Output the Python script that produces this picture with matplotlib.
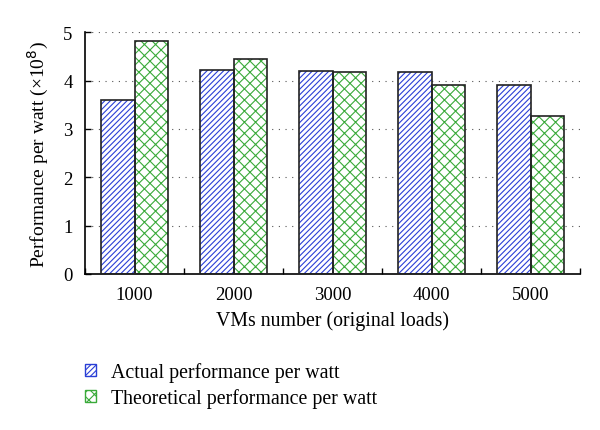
import matplotlib
matplotlib.use("Agg")
import matplotlib.pyplot as plt
import numpy as np
from matplotlib.patches import Patch

categories = ["1000", "2000", "3000", "4000", "5000"]
actual = [3.60, 4.21, 4.20, 4.17, 3.90]
theoretical = [4.82, 4.45, 4.17, 3.90, 3.27]

plt.rcParams['font.family'] = ['Liberation Serif', 'DejaVu Serif']
plt.rcParams['hatch.linewidth'] = 0.8

fig = plt.figure(figsize=(6, 4.31), dpi=100)
ax = fig.add_axes([0.1417, 0.362, 0.825, 0.561])

x = np.arange(len(categories))
w = 0.335
blue = '#2a3fd6'
green = '#3aaa3a'

ax.bar(x - w/2, actual, w, color='white', edgecolor=blue, hatch='//////', linewidth=0, zorder=2)
ax.bar(x + w/2, theoretical, w, color='white', edgecolor=green, hatch='xxx', linewidth=0, zorder=2)
ax.bar(x - w/2, actual, w, fill=False, edgecolor='#222222', linewidth=1.2, zorder=3)
ax.bar(x + w/2, theoretical, w, fill=False, edgecolor='#222222', linewidth=1.2, zorder=3)

ax.set_xlim(-0.5, 4.5)
ax.set_ylim(0, 5)
ax.set_yticks([0, 1, 2, 3, 4, 5])
ax.set_xticks(x)
ax.set_xticklabels(categories)
ax.set_xticks(np.arange(-0.5, 4.6, 1), minor=True)
ax.tick_params(axis='x', which='major', length=0, labelsize=13.5, pad=9)
ax.tick_params(axis='x', which='minor', direction='in', length=4, width=1)
ax.tick_params(axis='y', direction='in', length=4, width=1, labelsize=13.5, pad=9)
ax.grid(axis='y', linestyle=(0, (1, 5)), color='#555555', linewidth=0.8, zorder=0)
ax.spines['top'].set_visible(False)
ax.spines['right'].set_visible(False)
ax.spines['left'].set_linewidth(1.2)
ax.spines['bottom'].set_linewidth(1.2)

ax.set_xlabel("VMs number (original loads)", fontsize=14.3, labelpad=5)
ax.set_ylabel("Performance per watt (×10$^8$)", fontsize=14, labelpad=9)

handles = [Patch(facecolor='white', edgecolor=blue, hatch='//////', linewidth=1.0),
           Patch(facecolor='white', edgecolor=green, hatch='xxx', linewidth=1.0)]
fig.legend(handles, ["Actual performance per watt", "Theoretical performance per watt"],
           loc='upper left', bbox_to_anchor=(0.112, 0.198), frameon=False,
           fontsize=14.3, handlelength=0.55, handleheight=0.55, handletextpad=0.75,
           labelspacing=0.3)

fig.savefig("out.png", dpi=100)
